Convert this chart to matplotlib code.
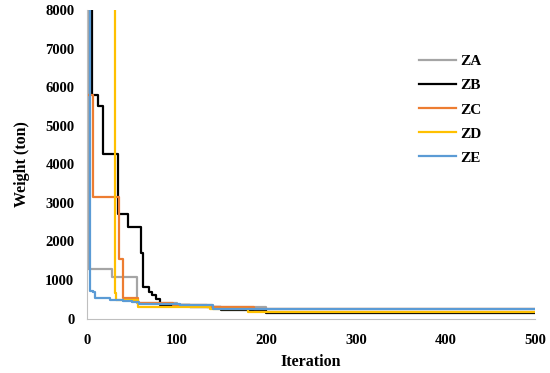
import numpy as np
import matplotlib.pyplot as plt

# breakpoints: (iteration where level starts, weight)
za_it = [0, 1, 28, 56, 100, 140, 200, 500]
za_w = [12000, 1290, 1080, 400, 340, 290, 245, 245]

zb_it = [0, 6, 12, 18, 35, 46, 60, 63, 69, 73, 77, 82, 115, 150, 200, 500]
zb_w = [12000, 5800, 5520, 4280, 2710, 2370, 1700, 820, 700, 600, 500, 340, 300, 230, 150, 150]

zc_it = [0, 7, 36, 40, 57, 96, 134, 186, 500]
zc_w = [5800, 3140, 1550, 530, 410, 350, 306, 240, 240]

zd_it = [0, 30, 31, 33, 57, 137, 180, 500]
zd_w = [12000, 12000, 660, 480, 300, 246, 170, 170]

ze_it = [0, 4, 7, 9, 26, 40, 50, 58, 104, 141, 500]
ze_w = [12000, 710, 700, 540, 490, 460, 430, 380, 350, 250, 250]

series = [
    ("ZA", za_it, za_w, "#a5a5a5"),
    ("ZB", zb_it, zb_w, "#000000"),
    ("ZC", zc_it, zc_w, "#ed7d31"),
    ("ZD", zd_it, zd_w, "#ffc000"),
    ("ZE", ze_it, ze_w, "#5b9bd5"),
]

plt.rcParams['font.family'] = ['Liberation Serif', 'DejaVu Serif']
plt.rcParams['font.weight'] = 'bold'

fig = plt.figure(figsize=(5.5, 3.73), dpi=100)
ax = fig.add_axes([0.158, 0.146, 0.815, 0.827])

for name, it, w, col in series:
    ax.step(it, w, where='post', color=col, lw=1.6, label=name)

ax.set_xlim(0, 500)
ax.set_ylim(0, 8000)
ax.set_xticks(np.arange(0, 501, 100))
ax.set_yticks(np.arange(0, 8001, 1000))
ax.tick_params(axis='x', length=0, labelsize=10.5, pad=11)
ax.tick_params(axis='y', length=0, labelsize=10.5, pad=9)
for lab in ax.get_xticklabels() + ax.get_yticklabels():
    lab.set_fontweight('bold')

for s in ['top', 'right']:
    ax.spines[s].set_visible(False)
for s in ['left', 'bottom']:
    ax.spines[s].set_color('#bfbfbf')
    ax.spines[s].set_linewidth(0.8)

ax.set_xlabel('Iteration', fontsize=11.5, fontweight='bold', labelpad=5)
ax.set_ylabel('Weight (ton)', fontsize=11.5, fontweight='bold', labelpad=11)

leg = ax.legend(loc='upper left', bbox_to_anchor=(0.71, 0.9), frameon=False,
                handlelength=2.4, labelspacing=0.68, handletextpad=0.3,
                prop={'size': 11, 'weight': 'bold'})

fig.savefig('out.png', dpi=100)
